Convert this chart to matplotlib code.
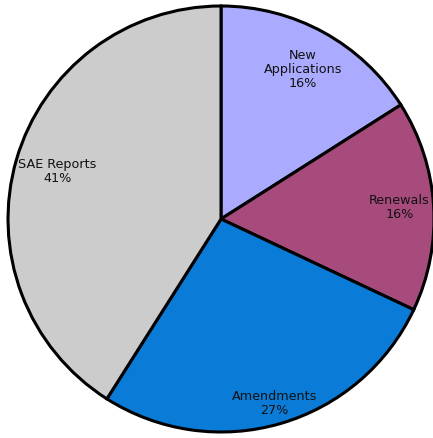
import numpy as np
import matplotlib.pyplot as plt

labels = ["New\nApplications", "Renewals", "Amendments", "SAE Reports"]
shares = [16, 16, 27, 41]
colors = ["#aaaaff", "#a64b7b", "#0a7bd6", "#cccccc"]
label_r = [0.80, 0.84, 0.90, 0.80]

fig = plt.figure(figsize=(4.33, 4.38), dpi=100)
ax = fig.add_axes([0, 0, 1, 1])

wedges, _ = ax.pie(shares, colors=colors, startangle=90, counterclock=False,
                   radius=1.0, center=(0, 0),
                   wedgeprops=dict(edgecolor="black", linewidth=2.2))

for w, name, pct, r in zip(wedges, labels, shares, label_r):
    mid = np.deg2rad((w.theta1 + w.theta2) / 2)
    ax.text(r * np.cos(mid), r * np.sin(mid), "%s\n%d%%" % (name, pct),
            ha="center", va="center", fontsize=9.2, linespacing=1.1,
            family="DejaVu Sans", color="#111111")

# the pie runs right up to the canvas edges
ax.set_xlim(-1.0376, 0.9953)
ax.set_ylim(-1.028, 1.028)
ax.set_aspect("equal")
ax.axis("off")

fig.savefig("out.png", dpi=100)
